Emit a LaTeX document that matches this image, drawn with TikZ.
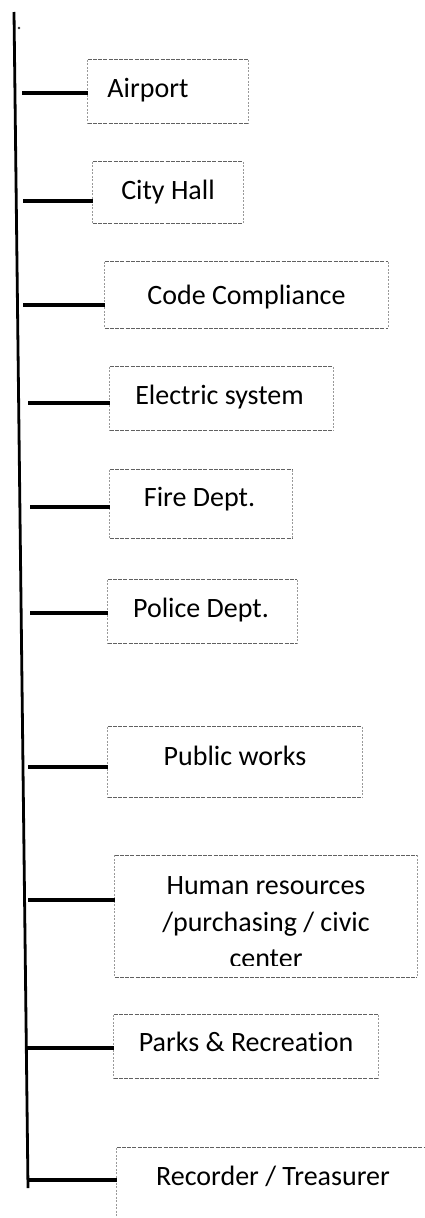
\documentclass[tikz,border=0pt]{standalone}
\usepackage{fontspec}
\setmainfont{Carlito}[Ligatures=NoCommon]
\begin{document}
\begin{tikzpicture}[x=1pt,y=-1pt,
  unit/.style={inner sep=0pt, text=black,
    font=\fontsize{28}{34}\selectfont,
    text height=18pt, text depth=6pt},
  hedge/.style={black!62, line width=0.9pt, dash pattern=on 4pt off 1.2pt},
  vedge/.style={black!40, line width=0.8pt, dash pattern=on 2pt off 1.5pt},
  link/.style={black, line width=3.3pt},
  trunk/.style={black, line width=2.8pt}]
\useasboundingbox (0,0) rectangle (425,1218);

% vertical trunk of the chart
\coordinate (ttop) at (14,12);
\coordinate (tbot) at (28,1188);
\draw[trunk] (ttop) -- (tbot);
\fill[black!80] (19,28) circle (1.3pt);

% department boxes
\node[unit, minimum width=160pt, minimum height=63pt, text height=17.5pt, text depth=6.5pt]
  (air) at (168,91.5) {Airport\kern40pt};
\node[unit, minimum width=150pt, minimum height=61pt, text height=18.5pt, text depth=5.5pt]
  (hall) at (168,192.5) {City Hall};
\node[unit, minimum width=283pt, minimum height=66pt, text height=21pt, text depth=3pt]
  (code) at (246.5,295) {Code Compliance};
\node[unit, minimum width=223pt, minimum height=63pt, text height=17.5pt, text depth=6.5pt]
  (elec) at (221.5,398.5) {Electric system\kern4pt};
\node[unit, minimum width=182pt, minimum height=68pt, text height=14.7pt, text depth=9.3pt]
  (fire) at (201,504) {Fire Dept.\kern3pt};
\node[unit, minimum width=189pt, minimum height=63pt, text height=17.5pt, text depth=6.5pt]
  (police) at (202.5,611.5) {Police Dept.\kern3pt};
\node[unit, minimum width=254pt, minimum height=70pt, text height=15pt, text depth=9pt]
  (works) at (235,762) {Public works};
% the last line of this box runs into its lower margin and is cut off there
\begin{scope}
  \clip (100,850) rectangle (425,965);
  \node[unit, text height=, text depth=, align=center,
        font=\fontsize{28}{36.5}\selectfont,
        minimum width=302pt, minimum height=122pt]
    (hr) at (266,916.5) {\rule{0pt}{30pt}Human resources\\/purchasing / civic\\center};
\end{scope}
\node[unit, minimum width=264pt, minimum height=63pt, text height=17pt, text depth=7pt]
  (parks) at (246,1046.5) {Parks \& Recreation};
\node[unit, minimum width=312pt, minimum height=72pt, text height=13pt, text depth=11pt]
  (rec) at (273,1184) {Recorder / Treasurer};

% box outlines: firm horizontal dashes, faint vertical ones
\foreach \n in {air,hall,code,elec,fire,police,works,hr,parks,rec}{
  \draw[hedge] (\n.north west) -- (\n.north east) (\n.south west) -- (\n.south east);
  \draw[vedge] (\n.north west) -- (\n.south west) (\n.north east) -- (\n.south east);
}

% branch connectors from the trunk to each box
\coordinate (s1) at (22,93);
\coordinate (s2) at (23,201);
\coordinate (s3) at (23,305);
\coordinate (s4) at (28,403);
\coordinate (s5) at (30,507);
\coordinate (s6) at (30,613);
\coordinate (s7) at (28,767);
\coordinate (s8) at (28,900);
\coordinate (s9) at (27,1048);
\coordinate (s10) at (28,1180);
\draw[link] (s1) -- (s1 -| air.west);
\draw[link] (s2) -- (s2 -| hall.west);
\draw[link] (s3) -- (s3 -| code.west);
\draw[link] (s4) -- (s4 -| elec.west);
\draw[link] (s5) -- (s5 -| fire.west);
\draw[link] (s6) -- (s6 -| police.west);
\draw[link] (s7) -- (s7 -| works.west);
\draw[link] (s8) -- (s8 -| hr.west);
\draw[link] (s9) -- (s9 -| parks.west);
\draw[link] (s10) -- (s10 -| rec.west);
\end{tikzpicture}
\end{document}
